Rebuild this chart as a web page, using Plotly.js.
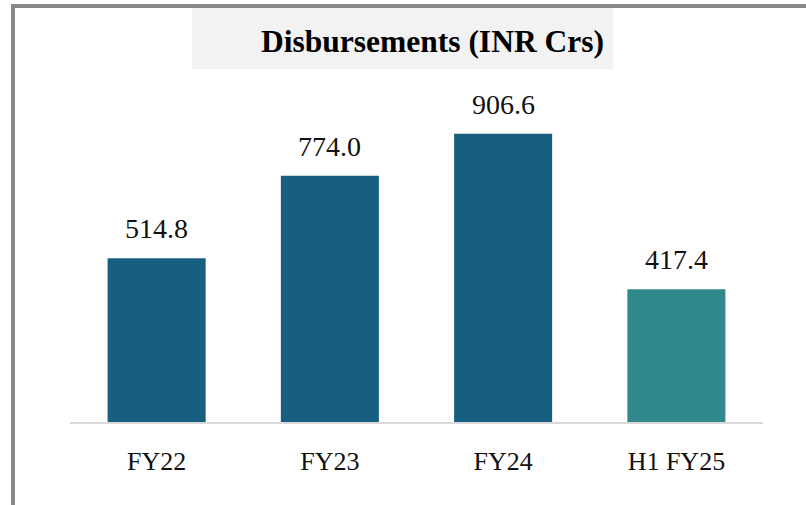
<!DOCTYPE html>
<html>
<head>
<meta charset="utf-8">
<script src="https://cdn.plot.ly/plotly-3.0.1.min.js"></script>
<style>html,body{margin:0;padding:0;background:#fff;}#chart{width:806px;height:505px;}</style>
</head>
<body>
<div id="chart"></div>
<script>
const categories = ["FY22", "FY23", "FY24", "H1 FY25"];
const values = [514.8, 774.0, 906.6, 417.4];
const barColors = ["#175f80", "#175f80", "#175f80", "#31898b"];
const titleText = "Disbursements (INR Crs)";

const W = 806, H = 505;
const M = {l: 70, r: 43, t: 104, b: 83};
const PW = W - M.l - M.r, PH = H - M.t - M.b;
const px = x => (x - M.l) / PW;
const py = y => (H - M.b - y) / PH;

const serif = "Liberation Serif, Times New Roman, serif";

const trace = {
  type: "bar",
  x: categories,
  y: values,
  marker: {color: barColors, line: {width: 0}},
  hoverinfo: "x+y"
};

const annotations = categories.map((c, i) => ({
  x: c, y: values[i], xref: "x", yref: "y",
  text: values[i].toFixed(1),
  showarrow: false, yanchor: "bottom", yshift: 12,
  font: {family: serif, size: 28, color: "#111"}
}));

const shapes = [
  {type: "rect", xref: "paper", yref: "paper", x0: px(192), x1: px(613), y0: py(69), y1: py(8),
   fillcolor: "#f2f2f2", line: {width: 0}, layer: "below"},
  {type: "rect", xref: "paper", yref: "paper", x0: px(11), x1: px(810), y0: py(8), y1: py(4),
   fillcolor: "#888888", line: {width: 0}},
  {type: "rect", xref: "paper", yref: "paper", x0: px(11), x1: px(15), y0: py(510), y1: py(4),
   fillcolor: "#888888", line: {width: 0}}
];

const layout = {
  width: W, height: H,
  margin: M,
  paper_bgcolor: "#ffffff",
  plot_bgcolor: "#ffffff",
  showlegend: false,
  bargap: 0.434,
  title: {
    text: "<b>" + titleText + "</b>",
    font: {family: serif, size: 31.5, color: "#000"},
    xref: "paper", x: px(432.5), xanchor: "center",
    yref: "container", y: 1 - 41 / H, yanchor: "middle"
  },
  xaxis: {
    type: "category",
    showline: true, linecolor: "#d9d9d9", linewidth: 2,
    showgrid: false, zeroline: false, ticks: "",
    ticklabelstandoff: 15,
    tickfont: {family: serif, size: 26, color: "#111"}
  },
  yaxis: {
    range: [0, 1000], autorange: false,
    visible: false, showgrid: false, zeroline: false
  },
  shapes: shapes,
  annotations: annotations
};

Plotly.newPlot("chart", [trace], layout, {displayModeBar: false, staticPlot: true});
</script>
</body>
</html>
